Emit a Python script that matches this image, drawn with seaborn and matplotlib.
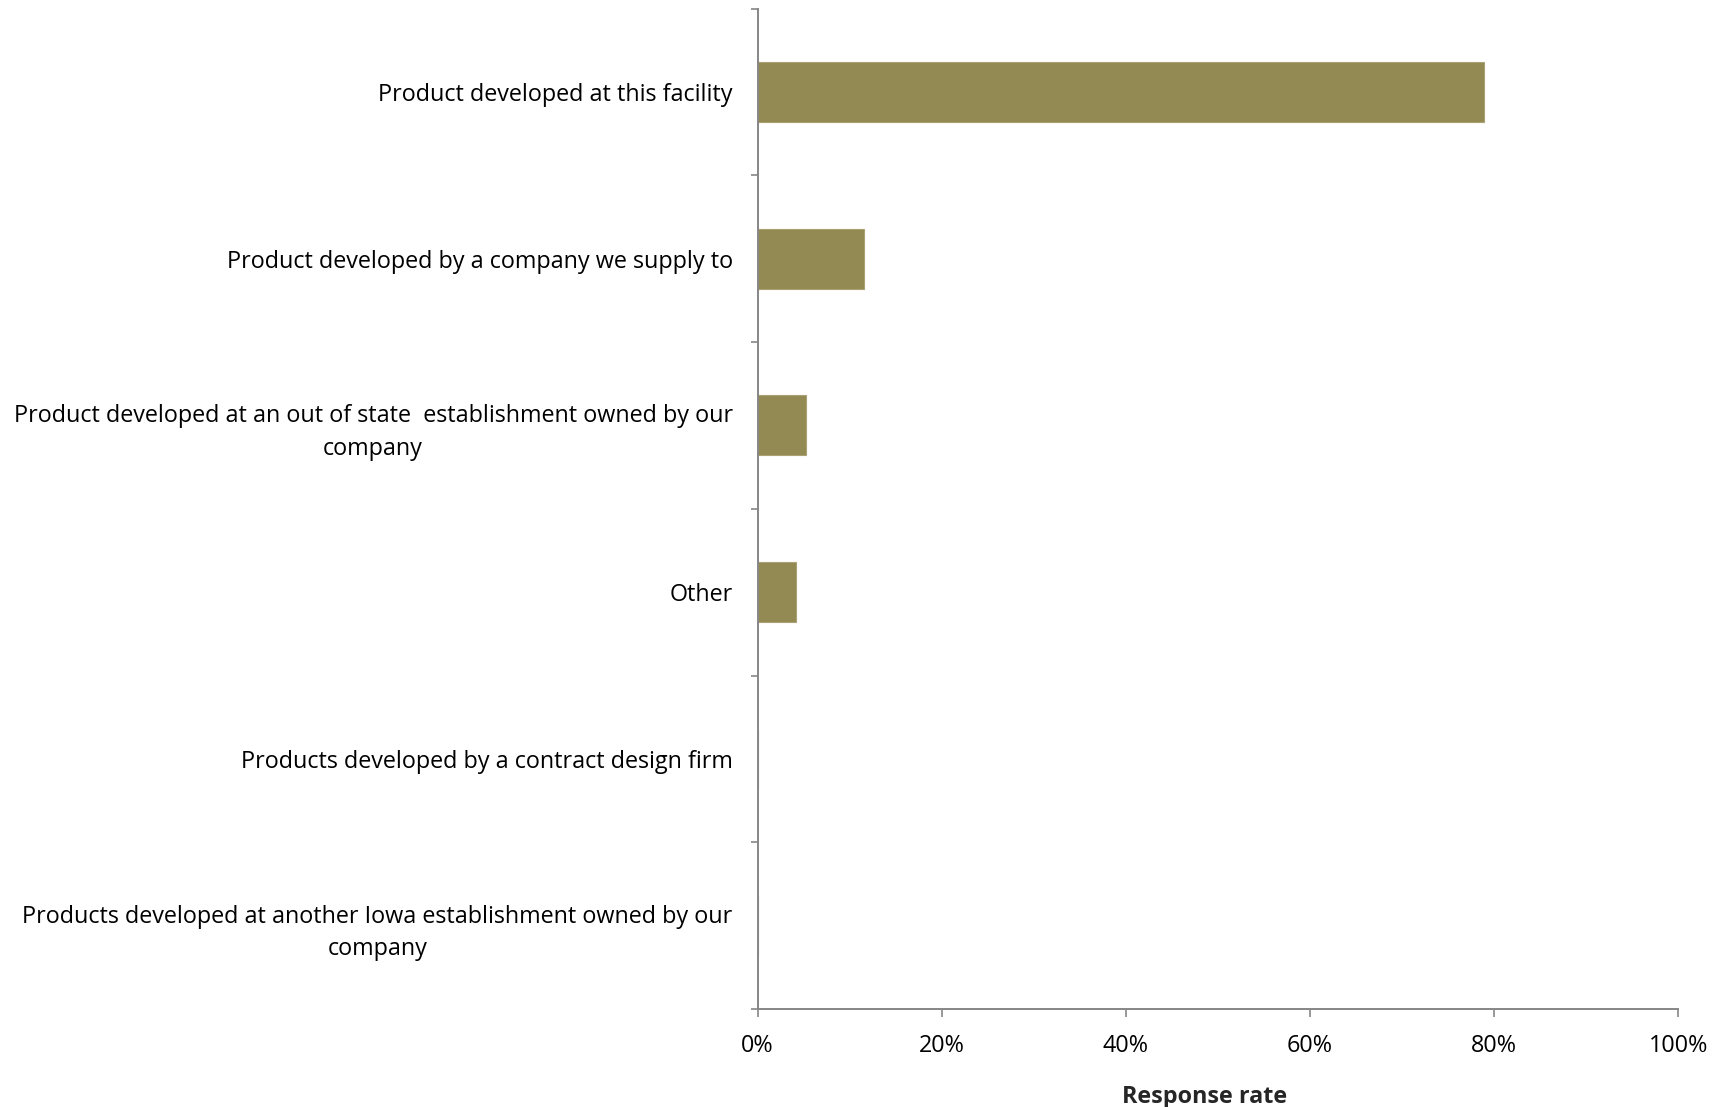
import matplotlib
matplotlib.use("Agg")
import matplotlib.pyplot as plt
from matplotlib.ticker import FixedLocator, PercentFormatter
import seaborn as sns
import pandas as pd

categories = [
    "Product developed at this facility",
    "Product developed by a company we supply to",
    "Product developed at an out of state  establishment owned by our\ncompany",
    "Other",
    "Products developed by a contract design firm",
    "Products developed at another Iowa establishment owned by our\ncompany",
]
response_rate = [78.9, 11.6, 5.3, 4.2, 0.0, 0.0]
x_ticks = [0, 20, 40, 60, 80, 100]
x_label = "Response rate"

sns.set_theme(style="white")
plt.rcParams["font.family"] = ["Open Sans", "DejaVu Sans"]

df = pd.DataFrame({"category": categories, "rate": response_rate})

fig = plt.figure(figsize=(17.29, 11.07), dpi=100)
ax = fig.add_axes([0.4382, 0.0885, 0.5325, 0.9038])

sns.barplot(data=df, x="rate", y="category", orient="h", color="#938953",
            saturation=1, width=0.36, ax=ax, edgecolor="#a9a173", linewidth=0.8)

axis_grey = "#868686"
ax.set_xlim(0, 100)
ax.set_ylim(len(categories) - 0.5, -0.5)
ax.xaxis.set_major_locator(FixedLocator(x_ticks))
ax.xaxis.set_major_formatter(PercentFormatter(decimals=0))

for side in ("top", "right"):
    ax.spines[side].set_visible(False)
for side in ("left", "bottom"):
    ax.spines[side].set_color(axis_grey)
    ax.spines[side].set_linewidth(1.4)

ax.tick_params(axis="x", which="major", direction="out", length=6, width=1.2,
               color=axis_grey, pad=12, labelsize=16.8, labelcolor="black", bottom=True)
ax.tick_params(axis="y", which="major", length=0, pad=18, labelsize=16.8, labelcolor="black")
ax.yaxis.set_minor_locator(FixedLocator([i - 0.5 for i in range(len(categories) + 1)]))
ax.tick_params(axis="y", which="minor", direction="out", length=5, width=1.2,
               color=axis_grey, left=True)
for lbl in ax.get_yticklabels():
    lbl.set_multialignment("center")
    lbl.set_linespacing(1.45)

ax.set_ylabel("")
ax.set_xlabel(x_label, fontsize=16.8, fontweight="bold")
ax.xaxis.set_label_coords(0.485, -0.076)

fig.savefig("out.png", dpi=100, facecolor="white")
